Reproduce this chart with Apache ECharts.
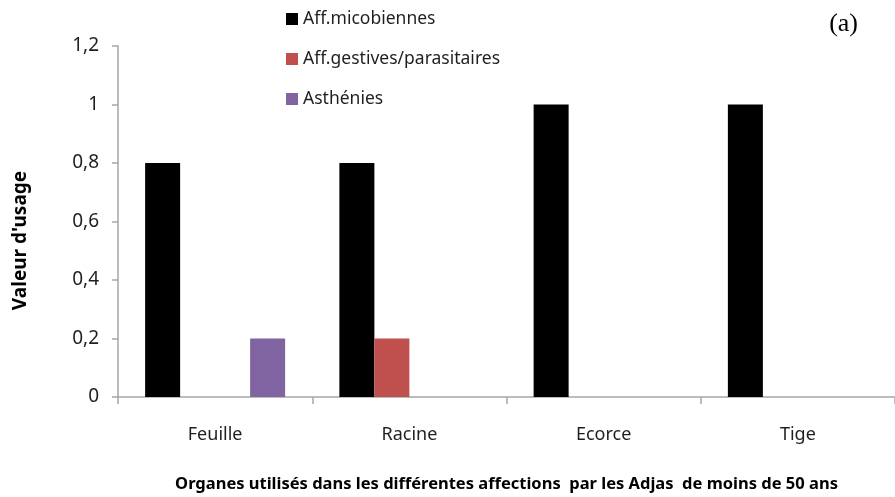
<!DOCTYPE html>
<html>
<head>
<meta charset="utf-8">
<script src="https://cdn.jsdelivr.net/npm/echarts@6/dist/echarts.min.js"></script>
<style>
  html, body { margin: 0; padding: 0; background: #fff; }
  #chart { width: 895px; height: 497px; }
</style>
</head>
<body>
<div id="chart"></div>
<script>
// données
var organes = ['Feuille', 'Racine', 'Ecorce', 'Tige'];
var affMicobiennes = [0.8, 0.8, 1, 1];
var affGestives = [0, 0.2, 0, 0];
var serieVide = [null, null, null, null]; // emplacement vide entre rouge et violet
var asthenies = [0.2, 0, 0, 0];
var yTicks = [0, 0.2, 0.4, 0.6, 0.8, 1, 1.2];

var police = '"Noto Sans", sans-serif';
var axeCouleur = '#a6a6a6';

var chart = echarts.init(document.getElementById('chart'));

chart.setOption({
  animation: false,
  textStyle: { fontFamily: police },
  grid: { left: 118, top: 46, bottom: 100, right: 0, outerBoundsMode: 'none' },
  legend: {
    orient: 'vertical',
    left: 281,
    top: 4,
    itemWidth: 12,
    itemHeight: 12,
    itemGap: 20,
    icon: 'rect',
    textStyle: { fontSize: 17.5, color: '#1f1f1f', lineHeight: 20, fontFamily: police },
    data: ['Aff.micobiennes', 'Aff.gestives/parasitaires', 'Asthénies']
  },
  graphic: [{
    type: 'text',
    right: 37,
    top: 11,
    style: { text: '(a)', fontSize: 26, fontFamily: '"Liberation Serif", serif', fill: '#000' }
  }],
  xAxis: {
    type: 'category',
    data: organes,
    name: 'Organes utilisés dans les différentes affections  par les Adjas  de moins de 50 ans',
    nameLocation: 'middle',
    nameGap: 79,
    nameTextStyle: { fontSize: 16.5, fontWeight: 'bold', color: '#000' },
    axisLine: { lineStyle: { color: axeCouleur, width: 1.5 } },
    axisTick: { show: true, length: 7, lineStyle: { color: axeCouleur, width: 1.5 } },
    axisLabel: { fontSize: 18, color: '#1f1f1f', margin: 29 }
  },
  yAxis: {
    type: 'value',
    min: yTicks[0],
    max: yTicks[yTicks.length - 1],
    interval: 0.2,
    name: "Valeur d'usage",
    nameLocation: 'middle',
    nameGap: 88,
    nameTextStyle: { fontSize: 19, fontWeight: 'bold', color: '#000', padding: [0, 0, 0, -38] },
    axisLine: { show: true, lineStyle: { color: axeCouleur, width: 1.5 } },
    axisTick: { show: true, length: 6, lineStyle: { color: axeCouleur, width: 1.5 } },
    splitLine: { show: false },
    axisLabel: {
      fontSize: 19,
      color: '#1f1f1f',
      margin: 19,
      formatter: function (v) { return String(+v.toFixed(1)).replace('.', ','); }
    }
  },
  series: [
    { name: 'Aff.micobiennes', type: 'bar', data: affMicobiennes, barWidth: 35, barGap: '0%',
      itemStyle: { color: '#000000' } },
    { name: 'Aff.gestives/parasitaires', type: 'bar', data: affGestives, barWidth: 35,
      itemStyle: { color: '#c0504d' } },
    { name: 'vide', type: 'bar', data: serieVide, barWidth: 35, itemStyle: { color: '#ffffff' } },
    { name: 'Asthénies', type: 'bar', data: asthenies, barWidth: 35,
      itemStyle: { color: '#8064a2' } }
  ]
});
</script>
</body>
</html>
